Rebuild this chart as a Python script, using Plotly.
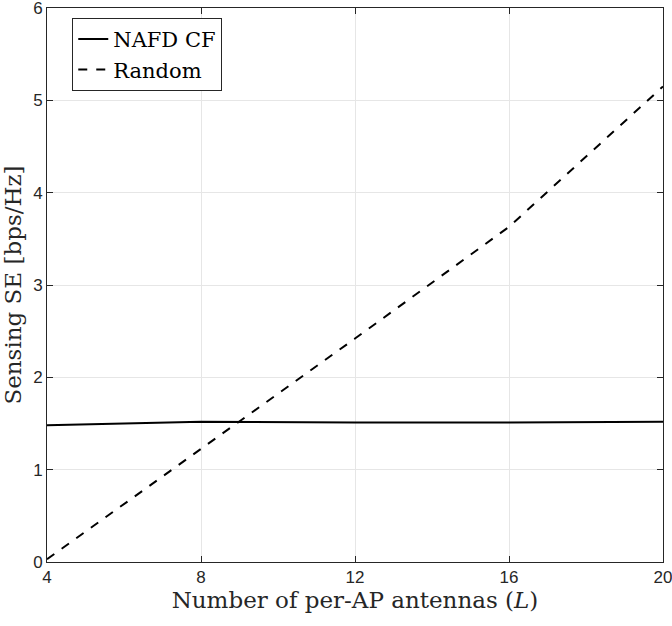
import plotly.graph_objects as go

L_vals = [4, 8, 12, 16, 20]
nafd_cf = [1.48, 1.52, 1.51, 1.51, 1.52]
random_se = [0.03, 1.22, 2.42, 3.63, 5.15]

x_ticks = [4, 8, 12, 16, 20]
y_ticks = [0, 1, 2, 3, 4, 5, 6]

serif = "DejaVu Serif"
sans = "Liberation Sans"

fig = go.Figure()
fig.add_trace(go.Scatter(x=L_vals, y=nafd_cf, mode="lines", name="NAFD CF",
                         line=dict(color="black", width=2, dash="solid")))
fig.add_trace(go.Scatter(x=L_vals, y=random_se, mode="lines", name="Random",
                         line=dict(color="black", width=2, dash="dash")))

axis_common = dict(showgrid=True, gridcolor="#e6e6e6", gridwidth=1,
                   showline=True, linecolor="#262626", linewidth=1, mirror="ticks",
                   ticks="inside", ticklen=6, tickcolor="#262626", zeroline=False,
                   ticklabeloverflow="allow", automargin=False,
                   tickfont=dict(family=sans, size=17, color="#262626"))

fig.update_layout(
    width=672, height=626,
    margin=dict(l=47, r=9, t=8, b=64, autoexpand=False),
    paper_bgcolor="white", plot_bgcolor="white",
    xaxis=dict(range=[4, 20], tickvals=x_ticks,
               title=dict(text="Number of per-AP antennas (<i>L</i>)",
                          font=dict(family=serif, size=23, color="#262626"), standoff=5),
               **axis_common),
    yaxis=dict(range=[0, 6], tickvals=y_ticks,
               title=dict(text="Sensing SE [bps/Hz]",
                          font=dict(family=serif, size=23, color="#262626"), standoff=6),
               **axis_common),
    legend=dict(x=0.041, y=0.982, xanchor="left", yanchor="top",
                bgcolor="white", bordercolor="#262626", borderwidth=1,
                font=dict(family=serif, size=21, color="black"),
                tracegroupgap=0, itemwidth=30),
    showlegend=True,
)

fig.write_html("out.html")
